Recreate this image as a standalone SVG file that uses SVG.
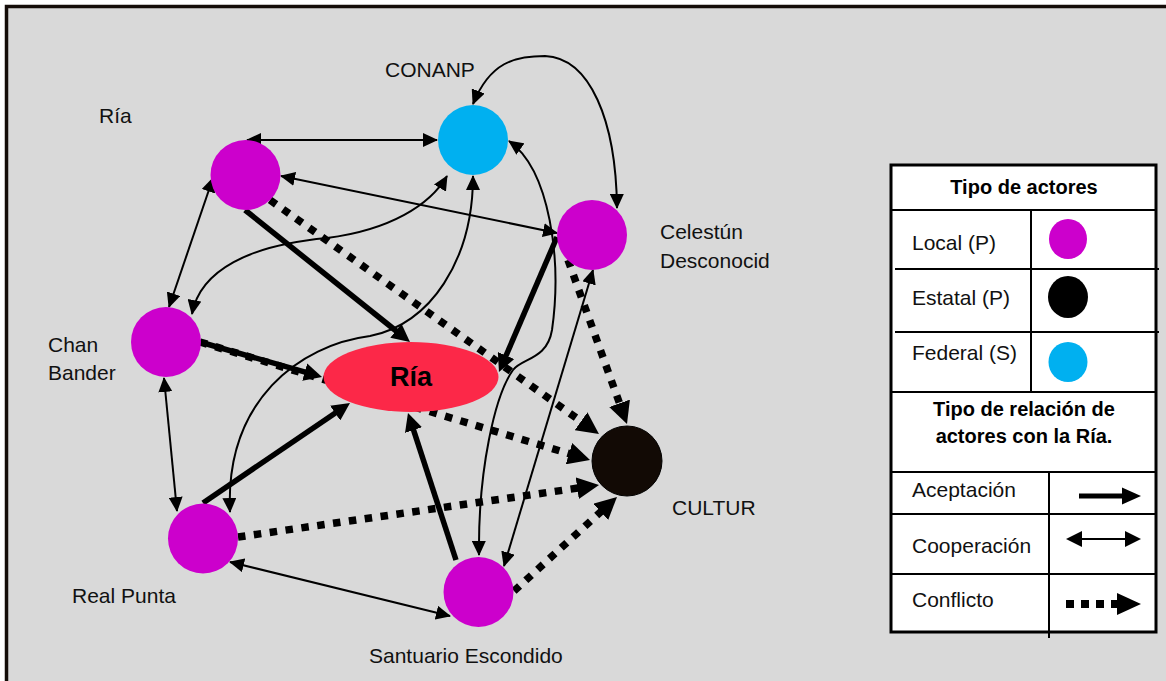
<svg xmlns="http://www.w3.org/2000/svg" width="1166" height="681" viewBox="0 0 1166 681">
<defs>
<style>
.lbl{font-family:"Liberation Sans",Arial,sans-serif;font-size:21px;fill:#111}
.bold{font-family:"Liberation Sans",Arial,sans-serif;font-weight:bold;fill:#000}
.thin{fill:none;stroke:#000;stroke-width:2;marker-start:url(#ah);marker-end:url(#ah)}
.thick{fill:none;stroke:#000;stroke-width:5.5;marker-end:url(#ahT)}
.dot{fill:none;stroke:#000;stroke-width:7.5;stroke-dasharray:7.5 8.5;marker-end:url(#ahD)}
.local{fill:#cc00cc}
.fed{fill:#00b0f0}
.est{fill:#120a05;stroke:#000;stroke-width:1}
.lg{stroke:#000;stroke-width:2}
</style>
<marker id="ah" markerUnits="userSpaceOnUse" markerWidth="16" markerHeight="14" refX="14" refY="7" orient="auto-start-reverse"><path d="M0,0 L15,7 L0,14 z" fill="#000"/></marker>
<marker id="ahT" markerUnits="userSpaceOnUse" markerWidth="19" markerHeight="18" refX="6" refY="9" orient="auto"><path d="M0,0 L18,9 L0,18 z" fill="#000"/></marker>
<marker id="ahD" markerUnits="userSpaceOnUse" markerWidth="23" markerHeight="22" refX="4" refY="11" orient="auto"><path d="M0,0 L22,11 L0,22 z" fill="#000"/></marker>
</defs>
<rect x="0" y="0" width="1166" height="681" fill="#fff"/>
<rect id="frame" x="6.5" y="6.5" width="1170" height="690" fill="#d9d9d9" stroke="#140c08" stroke-width="3.5"/>

<g id="connectors">
<line class="thin" x1="247" y1="140" x2="437" y2="140"/>
<line class="thin" x1="281" y1="176" x2="557" y2="233"/>
<line class="thin" x1="213" y1="178" x2="169" y2="307"/>
<line class="thin" x1="164" y1="378" x2="177" y2="511"/>
<line class="thin" x1="230" y1="562" x2="450" y2="616"/>
<line class="thin" x1="593" y1="270" x2="504" y2="566"/>
<path class="thin" d="M473,104 C490,62 515,56 545,56 C590,58 616,120 617,208"/>
<path class="thin" d="M192,314 C200,270 250,245 327,238 C390,230 430,205 447,176"/>
<path class="thin" d="M473,176 C473,260 430,325 370,336 C300,345 225,400 230,512"/>
<path class="thin" d="M509,141 C550,170 562,260 552,330 C547,360 522,358 513,370 C495,395 478,470 479,555"/>
<line class="dot" x1="270" y1="200" x2="584.3" y2="423.6"/>
<line class="dot" x1="200" y1="342" x2="572.8" y2="454.8"/>
<line class="dot" x1="238" y1="537" x2="581.2" y2="487.6"/>
<line class="dot" x1="568" y1="260" x2="620.9" y2="407.1"/>
<line class="dot" x1="514" y1="591" x2="603.7" y2="509.1"/>
<line class="thick" x1="245" y1="210" x2="400.6" y2="334.5"/>
<line class="thick" x1="200" y1="342" x2="310.5" y2="373.7"/>
<line class="thick" x1="203" y1="503" x2="340.1" y2="409.7"/>
<line class="thick" x1="456" y1="560" x2="411.7" y2="424.4"/>
<line class="thick" x1="557" y1="237" x2="503.7" y2="361"/>
</g>

<g id="node-ria-local">
<circle class="local" cx="245.5" cy="175" r="35"/>
<text class="lbl" x="99" y="123">Ría</text>
</g>
<g id="node-conanp">
<circle class="fed" cx="473" cy="140" r="35"/>
<text class="lbl" x="385" y="77">CONANP</text>
</g>
<g id="node-celestun">
<circle class="local" cx="592" cy="235" r="35"/>
<text class="lbl" x="660" y="239">Celestún</text>
<text class="lbl" x="660" y="268">Desconocid</text>
</g>
<g id="node-chan-bander">
<circle class="local" cx="166" cy="342" r="35"/>
<text class="lbl" x="48" y="352">Chan</text>
<text class="lbl" x="48" y="380">Bander</text>
</g>
<g id="node-ria">
<ellipse cx="411" cy="377" rx="87.5" ry="35" fill="#fc2848"/>
<text class="bold" x="411" y="386" font-size="27" text-anchor="middle">Ría</text>
</g>
<g id="node-cultur">
<circle class="est" cx="627" cy="461" r="35"/>
<text class="lbl" x="672" y="515">CULTUR</text>
</g>
<g id="node-real-punta">
<circle class="local" cx="203" cy="538.5" r="35"/>
<text class="lbl" x="72" y="603">Real Punta</text>
</g>
<g id="node-santuario">
<circle class="local" cx="478.5" cy="592" r="35"/>
<text class="lbl" x="369" y="663">Santuario Escondido</text>
</g>

<g id="legend">
<rect x="891" y="165" width="265" height="467" fill="#fff" stroke="#000" stroke-width="3"/>
<line class="lg" x1="891" y1="210" x2="1156" y2="210"/>
<line class="lg" x1="1031" y1="210" x2="1031" y2="392"/>
<line class="lg" x1="895" y1="269" x2="1159" y2="269"/>
<line class="lg" x1="895" y1="332" x2="1159" y2="332"/>
<line class="lg" x1="891" y1="392" x2="1156" y2="392" stroke-width="2.5"/>
<line class="lg" x1="891" y1="472" x2="1156" y2="472"/>
<line class="lg" x1="1049" y1="472" x2="1049" y2="638"/>
<line class="lg" x1="891" y1="514" x2="1156" y2="514"/>
<line class="lg" x1="891" y1="574" x2="1156" y2="574"/>
<text class="bold" x="1024" y="194" font-size="20" text-anchor="middle">Tipo de actores</text>
<text class="lbl" x="912" y="250" font-size="20">Local (P)</text>
<text class="lbl" x="912" y="305" font-size="20">Estatal (P)</text>
<text class="lbl" x="912" y="360" font-size="20">Federal (S)</text>
<ellipse cx="1068" cy="239" rx="19" ry="20" fill="#cc00cc"/>
<ellipse cx="1068" cy="297" rx="20" ry="21" fill="#000"/>
<ellipse cx="1068" cy="362" rx="19.5" ry="20" fill="#00b0f0"/>
<text class="bold" x="1024" y="416" font-size="20" text-anchor="middle">Tipo de relación de</text>
<text class="bold" x="1024" y="443" font-size="20" text-anchor="middle">actores con la Ría.</text>
<text class="lbl" x="912" y="497" font-size="20">Aceptación</text>
<text class="lbl" x="912" y="553" font-size="20">Cooperación</text>
<text class="lbl" x="912" y="607" font-size="20">Conflicto</text>
<line x1="1079" y1="496" x2="1124" y2="496" stroke="#000" stroke-width="5"/>
<path d="M1122,487.5 L1141,496 L1122,504.5 z" fill="#000"/>
<line x1="1070" y1="539" x2="1137" y2="539" stroke="#000" stroke-width="2"/>
<path d="M1066,539 L1082,531 L1082,547 z" fill="#000"/>
<path d="M1141,539 L1125,531 L1125,547 z" fill="#000"/>
<line x1="1066" y1="604" x2="1117" y2="604" stroke="#000" stroke-width="8" stroke-dasharray="8 7"/>
<path d="M1117,593 L1141,604 L1117,615 z" fill="#000"/>
</g>
</svg>
